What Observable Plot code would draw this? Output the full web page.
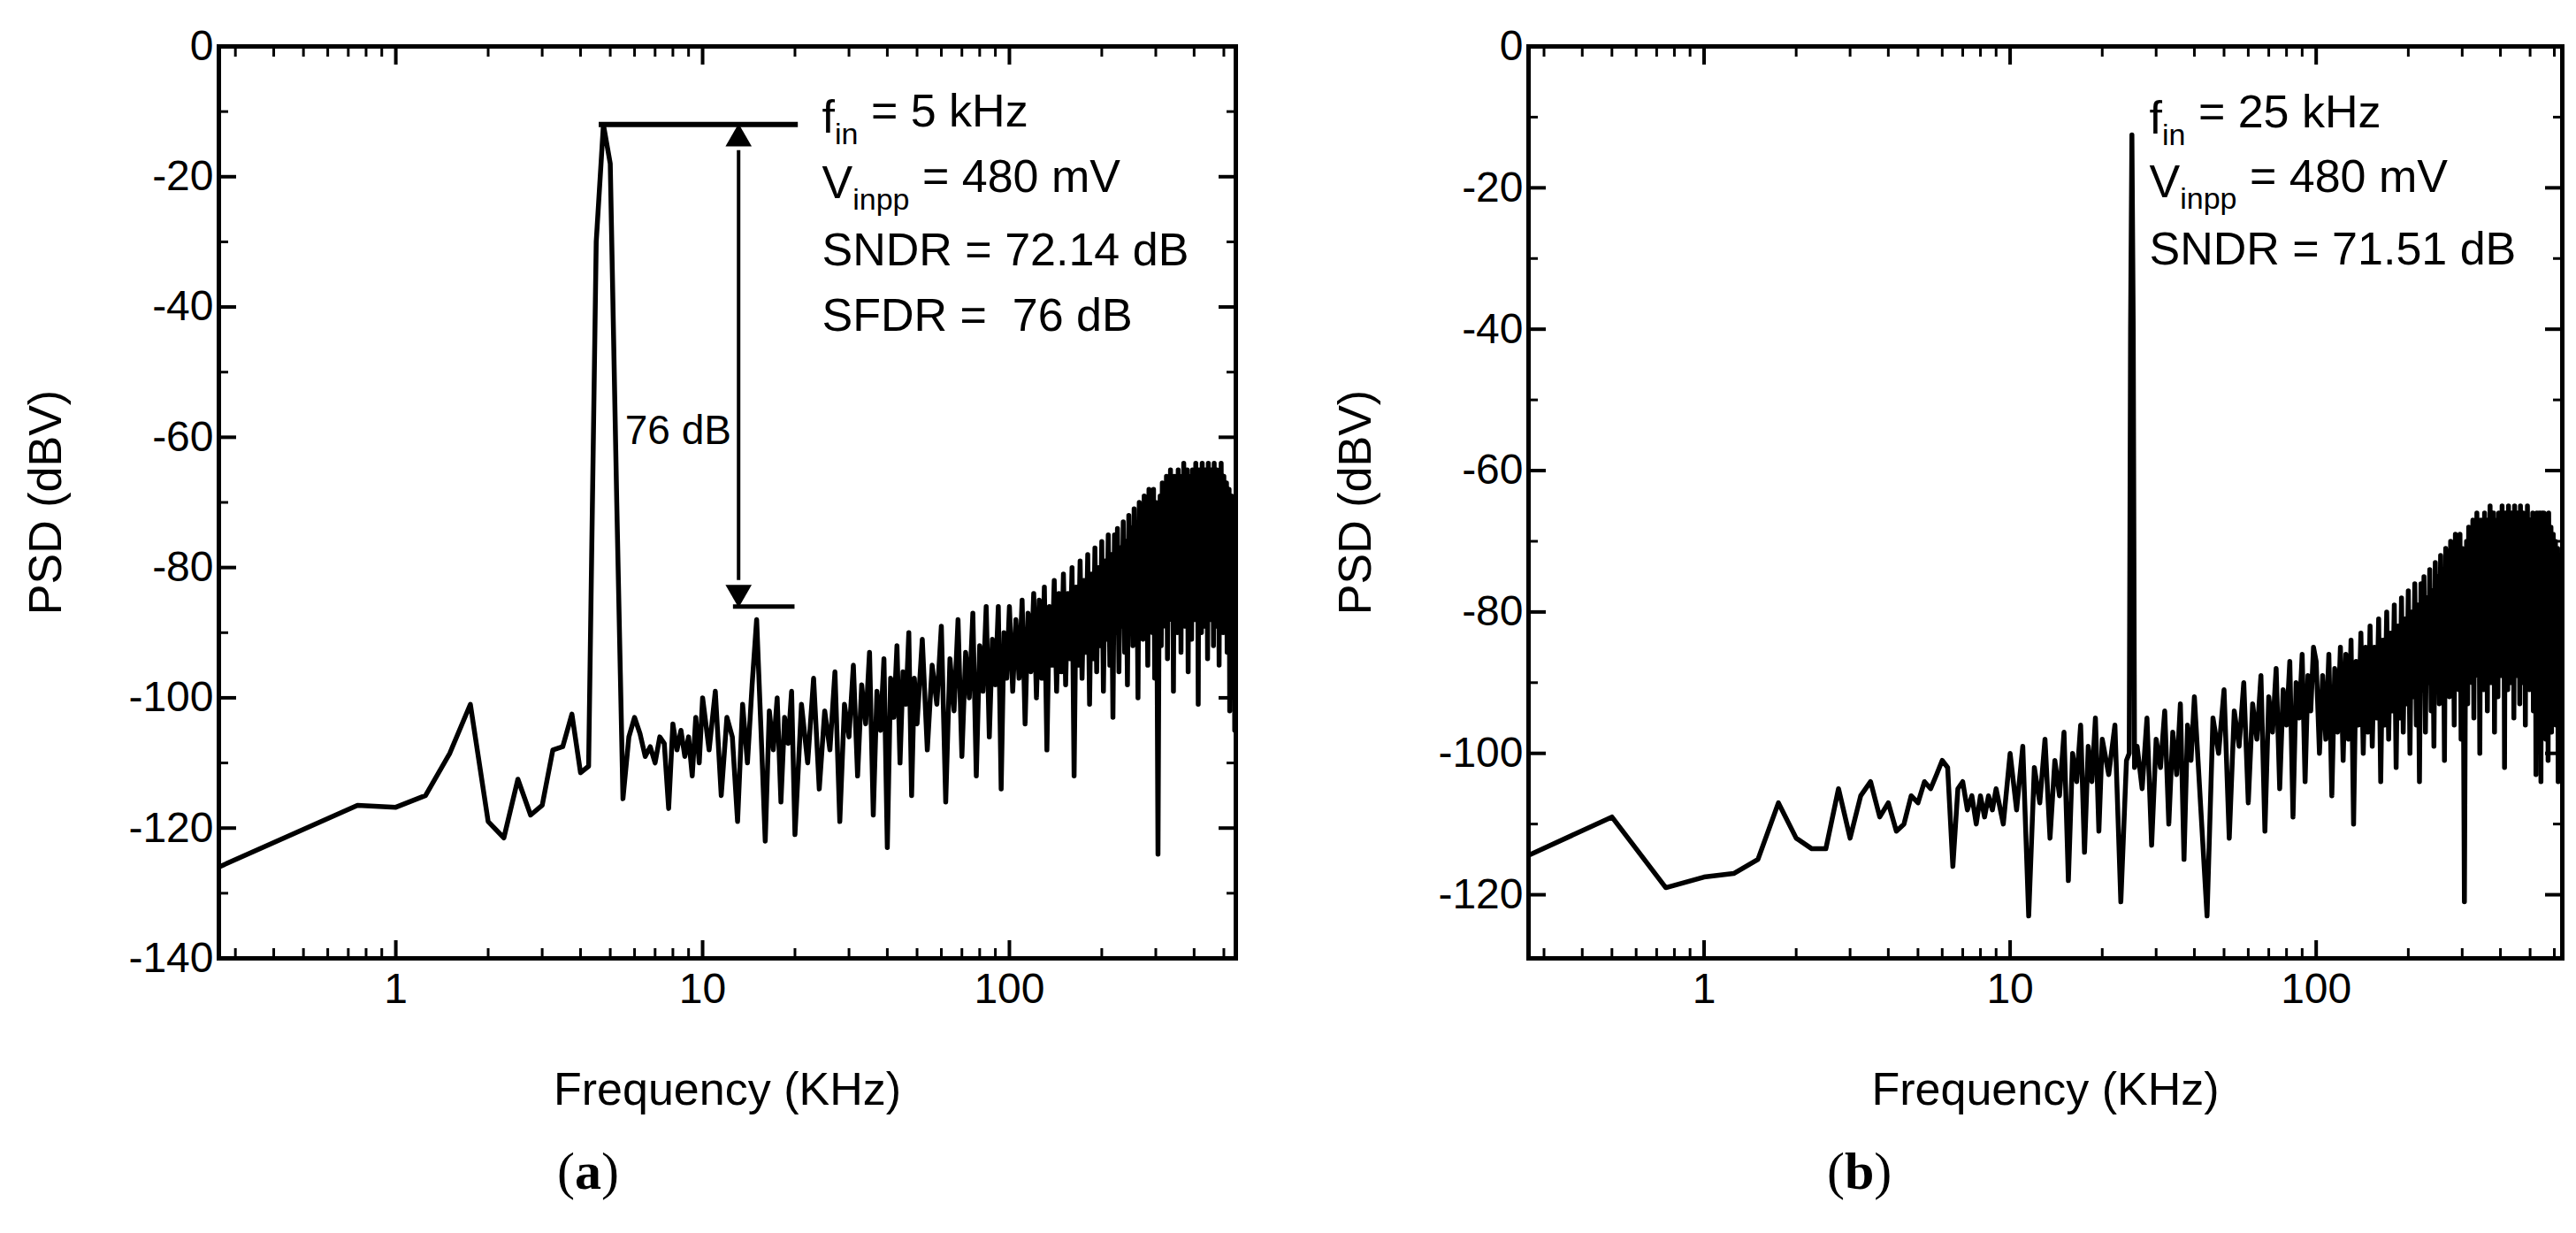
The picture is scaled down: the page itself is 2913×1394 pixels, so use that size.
<!DOCTYPE html>
<html><head><meta charset="utf-8">
<script src="https://cdn.jsdelivr.net/npm/d3@7"></script>
<script src="https://cdn.jsdelivr.net/npm/@observablehq/plot@0.6"></script>
<style>
body{margin:0;background:#fff;width:2913px;height:1394px;overflow:hidden;font-family:"Liberation Sans",Arial,sans-serif}
#wrap{display:flex}
.panel{width:1456px;position:relative}
.cap{position:absolute;top:1290px;width:100%;font:60px "Liberation Serif",serif;}
</style></head><body>
<div id="wrap"><div class="panel" id="pa"><div class="cap"><span style="position:absolute;left:630px">(<b>a</b>)</span></div></div>
<div class="panel" id="pb"><div class="cap"><span style="position:absolute;left:610px">(<b>b</b>)</span></div></div></div>
<script>
// Panel (a): fin = 5 kHz  — low-frequency bins read individually
const freqA = [0.25,0.75,1.0,1.25,1.5,1.75,2.0,2.25,2.5,2.75,3.0,3.25,3.5,3.75,4.0,4.25,4.5,4.75,5.0,5.25,5.5,5.75,6.0,6.25,6.5,6.75,7.0,7.25,7.5,7.75,8.0,8.25,8.5,8.75,9.0,9.25,9.5,9.75,10,
10.5,11,11.5,12,12.5,13,13.5,14,14.5,15,15.5,16,16.5,17,17.5,18,18.5,19,19.5,20,21,22,23,24,25,26,27,28,29,30,
31,32,33,34,35,36,37,38,39,40,41,42,43,44,45,46,47,48,49,50,52,54,56,58,60,62,64,66,68,70,72,74,76,78,80,82,84,86,88,90,92,94,96,98];
const psdA = [-126.5,-116.5,-116.8,-115,-108.5,-101,-119,-121.5,-112.5,-118,-116.5,-108,-107.5,-102.5,-111.5,-110.5,-30,-12,-18,-70,-115.5,-106,-103,-105.5,-109,-107.5,-110,-106,-107,-117,-104,-108,-105,-109,-106,-112,-103,-110,-100,
-108,-99,-115,-103,-106,-119,-101,-110,-98,-88,-105,-122,-102,-108,-100,-116,-103,-107,-99,-121,-101,-110,-97,-114,-102,-108,-96,-119,-101,-106,
-95,-112,-98,-104,-93,-118,-99,-105,-94,-123,-97,-103,-92,-110,-96,-101,-90,-115,-97,-104,-91,-108,-95,-101,-89,-116,-94,-102,-88,-109,-93,-100,-87,-112,-92,-99,-86,-106,-91,-98,-86,-114,-90,-97];
// Panel (a) high-frequency band, bins every 2.5 kHz from 100 to 550 kHz
const psdAHigh = [-86,-99,-88,-97,-85,-104,-87,-96,-84,-100,
-85,-97,-83,-108,-86,-95,-82,-99,-84,-96,
-81,-98,-84,-94,-80,-112,-83,-95,-79,-97,
-82,-93,-78,-101,-81,-94,-77,-96,-80,-92,
-76,-99,-79,-91,-75,-95,-78,-103,-75,-90,
-74,-96,-77,-89,-73,-93,-76,-98,-72,-88,
-74,-92,-71,-89,-75,-100,-70,-87,-73,-91,
-69,-88,-72,-95,-68,-86,-71,-90,-68,-97,
-70,-87,-124,-85,-69,-92,-67,-86,-70,-89,
-66,-94,-69,-85,-65,-88,-68,-99,-66,-84,
-67,-90,-65,-86,-68,-93,-66,-83,-64,-89,
-67,-85,-65,-96,-66,-84,-68,-91,-65,-83,
-66,-88,-64,-86,-67,-101,-65,-84,-66,-90,
-64,-83,-67,-89,-65,-86,-66,-94,-64,-84,
-66,-88,-65,-83,-67,-92,-64,-85,-66,-89,
-65,-84,-67,-95,-66,-86,-64,-83,-68,-90,
-66,-85,-69,-88,-67,-93,-70,-84,-68,-102,
-71,-86,-69,-95,-72,-88,-70,-105,-73,-87,
-75];
// Panel (b): fin = 25 kHz
const freqB = [0.25,0.5,0.75,1.0,1.25,1.5,1.75,2.0,2.25,2.5,2.75,3.0,3.25,3.5,3.75,4.0,4.25,4.5,4.75,5.0,5.25,5.5,5.75,6.0,6.25,6.5,6.75,7.0,7.25,7.5,7.75,8.0,8.25,8.5,8.75,9,9.5,10,
10.5,11,11.5,12,12.5,13,13.5,14,14.5,15,15.5,16,16.5,17,17.5,18,18.5,19,19.5,20,21,22,23,24,24.5,24.75,25,25.25,25.5,26,27,28,29,30,
31,32,33,34,35,36,37,38,39,40,42,44,46,48,50,52,54,56,58,60,62,64,66,68,70,72,74,76,78,80,82,84,86,88,90,92,94,96,98];
const psdB = [-115,-109,-119,-117.5,-117,-115,-107,-112,-113.5,-113.5,-105,-112,-106,-104,-109,-107,-111,-110,-106,-107,-104,-105,-103,-101,-102,-116,-105,-104,-108,-106,-110,-106,-109,-106,-108,-105,-110,-100,
-108,-99,-123,-102,-107,-98,-112,-101,-106,-97,-118,-100,-104,-96,-114,-99,-104,-95,-111,-98,-103,-96,-121,-101,-100,-40,-12.5,-40,-102,-99,-105,-95,-113,-98,
-102,-94,-110,-97,-103,-93,-115,-96,-101,-92,-108,-123,-95,-100,-91,-112,-94,-99,-90,-107,-93,-98,-89,-111,-92,-97,-88,-105,-91,-96,-87,-109,-90,-95,-86,-104,-89,-94,-85];
// Panel (b) high-frequency band, bins every 2.5 kHz from 100 to 637.5 kHz
const psdBHigh = [-87,-100,-89,-98,-86,-106,-88,-97,-85,-101,
-86,-98,-84,-110,-87,-96,-83,-100,-85,-97,
-82,-99,-85,-95,-81,-104,-84,-96,-80,-98,
-83,-94,-79,-102,-82,-95,-78,-97,-81,-93,
-77,-100,-80,-92,-76,-96,-79,-104,-76,-91,
-75,-97,-78,-90,-74,-94,-77,-99,-73,-89,
-75,-93,-72,-90,-76,-101,-71,-88,-74,-92,
-70,-89,-73,-96,-69,-87,-72,-91,-69,-98,
-71,-88,-121,-86,-70,-93,-68,-87,-71,-90,
-67,-95,-70,-86,-66,-89,-69,-100,-67,-85,
-68,-91,-66,-87,-69,-94,-67,-84,-65,-90,
-68,-86,-66,-97,-67,-85,-69,-92,-66,-84,
-67,-89,-65,-87,-68,-102,-66,-85,-67,-91,
-65,-84,-68,-90,-66,-87,-67,-95,-65,-85,
-67,-89,-66,-84,-68,-93,-65,-86,-67,-90,
-66,-85,-68,-96,-67,-87,-65,-84,-69,-91,
-67,-86,-68,-89,-66,-94,-68,-85,-67,-103,
-66,-87,-68,-96,-66,-89,-67,-104,-66,-88,
-67,-92,-66,-87,-69,-98,-67,-86,-68,-101,
-66,-90,-70,-87,-68,-97,-71,-86,-69,-92,
-72,-88,-70,-96,-73,-89,-71,-104,-74,-90,
-72,-95,-75,-90,-73,-88];
const binStep = 2.5;
const textA = ["f_{in} = 5 kHz","V_{inpp} = 480 mV","SNDR = 72.14 dB","SFDR =  76 dB"];
const textAy = [-11,-21,-31.3,-41.4];
const textB = ["f_{in} = 25 kHz","V_{inpp} = 480 mV","SNDR = 71.51 dB"];
const textBy = [-10.2,-19.3,-28.8];

const FONT = '"Liberation Sans",Arial,sans-serif';
const minorAll = [];
for (const d of [0.1,1,10,100]) for (let k=2;k<=9;k++) minorAll.push(d*k);
const blank = () => "";
function panel(freq, psd, high, xdom, ydom, yTicks, yMinor, marginLeft, marginRight, notes, noteY, noteX, extra){
  const data = freq.map((f,i)=>({f, v: psd[i]})).concat(high.map((v,i)=>({f: 100 + i*binStep, v})));
  const minorX = minorAll.filter(t => t >= xdom[0] && t <= xdom[1]);
  return Plot.plot({
    width: 1456, height: 1290, marginLeft, marginRight, marginTop: 52, marginBottom: 207,
    style: {fontFamily: FONT, fontSize: "48px", background: "#fff", color: "#000"},
    x: {type: "log", domain: xdom},
    y: {domain: ydom},
    marks: [
      Plot.frame({strokeWidth: 5}),
      Plot.axisX({ticks: [1,10,100], tickFormat: d=>String(d), tickSize: -20, strokeWidth: 4, tickPadding: 36, fontSize: 48, label: "Frequency (KHz)", labelAnchor: "center", labelArrow: "none", labelOffset: 165, anchor: "bottom"}),
      Plot.axisX({ticks: minorX, tickFormat: blank, tickSize: -11, strokeWidth: 3, label: null, anchor: "bottom"}),
      Plot.axisX({ticks: [1,10,100], tickFormat: blank, tickSize: -20, strokeWidth: 4, label: null, anchor: "top"}),
      Plot.axisX({ticks: minorX, tickFormat: blank, tickSize: -11, strokeWidth: 3, label: null, anchor: "top"}),
      Plot.axisY({ticks: yTicks, tickFormat: d=>String(d), tickSize: -20, strokeWidth: 4, tickPadding: 26, fontSize: 48, label: "PSD (dBV)", labelAnchor: "center", labelArrow: "none", labelOffset: 215, anchor: "left"}),
      Plot.axisY({ticks: yMinor, tickFormat: blank, tickSize: -11, strokeWidth: 3, label: null, anchor: "left"}),
      Plot.axisY({ticks: yTicks, tickFormat: blank, tickSize: -20, strokeWidth: 4, label: null, anchor: "right"}),
      Plot.axisY({ticks: yMinor, tickFormat: blank, tickSize: -11, strokeWidth: 3, label: null, anchor: "right"}),
      Plot.line(data, {x: "f", y: "v", stroke: "#000", strokeWidth: 5.5, clip: true, strokeLinejoin: "round"}),
      ...extra,
      Plot.text(notes, {x: () => noteX, y: (d,i) => noteY[i], text: d => d, textAnchor: "start", fontSize: 52, fill: "#000"})
    ]
  });
}
function fixSub(svg){
  svg.querySelectorAll("text").forEach(t=>{
    const s = t.textContent;
    const m = s.match(/^(.*)_\{(.*)\}(.*)$/);
    if (m) t.innerHTML = `${m[1]}<tspan dy="0.38em" font-size="34">${m[2]}</tspan><tspan dy="-0.38em">${m[3]}</tspan>`;
  });
  svg.querySelectorAll('[aria-label="y-axis label"] text, [aria-label="x-axis label"] text').forEach(t=>t.setAttribute("font-size","52"));
}
const arrowA = [
  Plot.ruleY([-12], {x1: 4.6, x2: 20.5, strokeWidth: 6}),
  Plot.ruleY([-86], {x1: 12.6, x2: 20, strokeWidth: 5}),
  Plot.ruleX([13.1], {y1: -16, y2: -82, strokeWidth: 4}),
  Plot.dot([{x:13.1,y:-12}], {x:"x", y:"y", symbol:"triangle", r: 11, fill:"#000", dy: 16}),
  Plot.dot([{x:13.1,y:-86}], {x:"x", y:"y", symbol:"triangle", r: 11, fill:"#000", rotate: 180, dy: -16}),
  Plot.text(["76 dB"], {x: () => 12.4, y: () => -59, text: d=>d, textAnchor: "end", fontSize: 46})
];
const a = panel(freqA, psdA, psdAHigh, [0.265, 547], [-140, 0], d3.range(-140,1,20), d3.range(-130,0,20), 247, 59, textA, textAy, 24.5, arrowA);
const b = panel(freqB, psdB, psdBHigh, [0.267, 637], [-129, 0], d3.range(-120,1,20), d3.range(-110,0,20), 272, 15, textB, textBy, 28.5, []);
fixSub(a); fixSub(b);
document.getElementById("pa").prepend(a);
document.getElementById("pb").prepend(b);
</script></body></html>
